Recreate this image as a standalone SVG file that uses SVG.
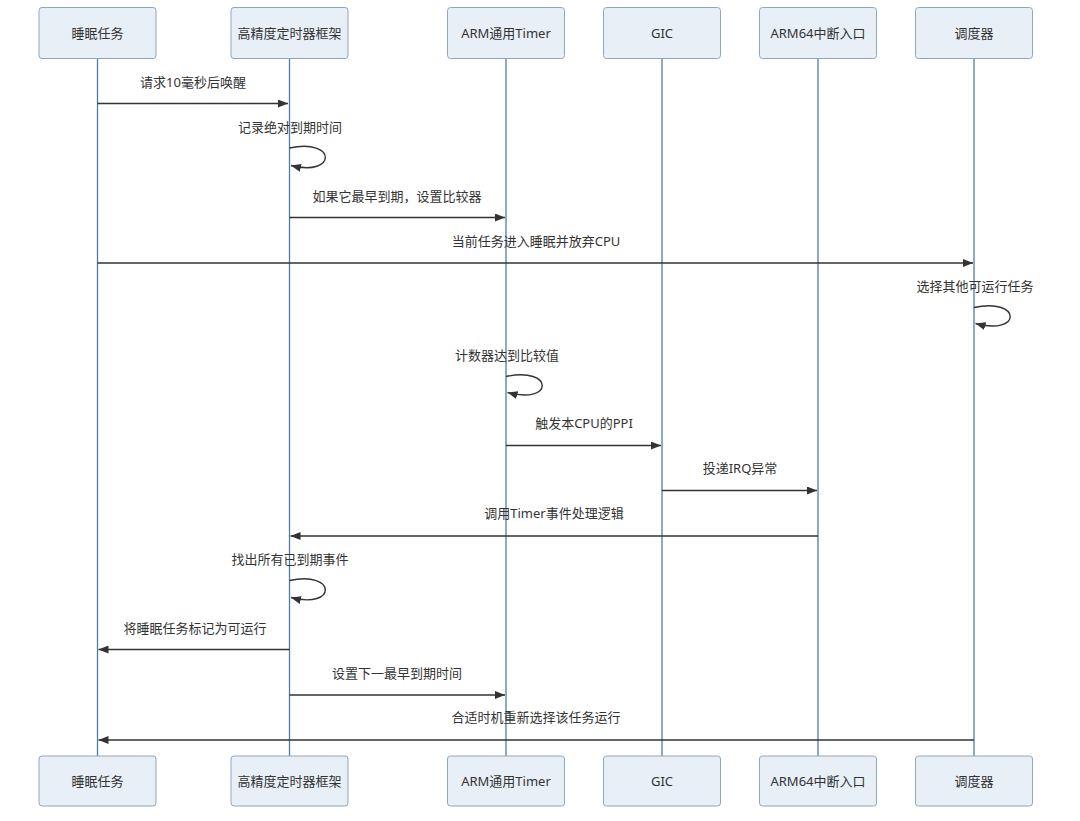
<svg xmlns="http://www.w3.org/2000/svg" width="1080" height="821" viewBox="0 0 1080 821">
<style>
.box{fill:#e8eff7;stroke:#8ea7c0;stroke-width:1}
.life{stroke:#4f7ca8;stroke-width:1.3;fill:none}
.msg{stroke:#333;stroke-width:1.4;fill:none}
.t{font-family:"Noto Sans","Noto Sans CJK SC",sans-serif;font-size:13px;fill:#333;text-anchor:middle;dominant-baseline:central}
</style>
<defs>
<marker id="ah" viewBox="0 0 10 8" refX="10" refY="4" markerWidth="10" markerHeight="8" markerUnits="userSpaceOnUse" orient="auto">
<path d="M0,0 L10,4 L0,8 Z" fill="#333"/>
</marker>
</defs>
<rect width="1080" height="821" fill="#fff"/>
<g id="lifelines">
<line class="life" x1="97.5" y1="58" x2="97.5" y2="756"/>
<line class="life" x1="289.5" y1="58" x2="289.5" y2="756"/>
<line class="life" x1="506" y1="58" x2="506" y2="756"/>
<line class="life" x1="662" y1="58" x2="662" y2="756"/>
<line class="life" x1="818" y1="58" x2="818" y2="756"/>
<line class="life" x1="974" y1="58" x2="974" y2="756"/>
</g>
<g id="n-sleep"><rect class="box" x="39" y="7.5" width="117" height="51" rx="3"/><text class="t" x="97.5" y="33">睡眠任务</text>
<rect class="box" x="39" y="756" width="117" height="50" rx="3"/><text class="t" x="97.5" y="781">睡眠任务</text></g>
<g id="n-hrtimer"><rect class="box" x="231" y="7.5" width="117" height="51" rx="3"/><text class="t" x="289.5" y="33">高精度定时器框架</text>
<rect class="box" x="231" y="756" width="117" height="50" rx="3"/><text class="t" x="289.5" y="781">高精度定时器框架</text></g>
<g id="n-timer"><rect class="box" x="447.5" y="7.5" width="117" height="51" rx="3"/><text class="t" x="506" y="33">ARM通用Timer</text>
<rect class="box" x="447.5" y="756" width="117" height="50" rx="3"/><text class="t" x="506" y="781">ARM通用Timer</text></g>
<g id="n-gic"><rect class="box" x="603.5" y="7.5" width="117" height="51" rx="3"/><text class="t" x="662" y="33">GIC</text>
<rect class="box" x="603.5" y="756" width="117" height="50" rx="3"/><text class="t" x="662" y="781">GIC</text></g>
<g id="n-entry"><rect class="box" x="759.5" y="7.5" width="117" height="51" rx="3"/><text class="t" x="818" y="33">ARM64中断入口</text>
<rect class="box" x="759.5" y="756" width="117" height="50" rx="3"/><text class="t" x="818" y="781">ARM64中断入口</text></g>
<g id="n-sched"><rect class="box" x="915.5" y="7.5" width="117" height="51" rx="3"/><text class="t" x="974" y="33">调度器</text>
<rect class="box" x="915.5" y="756" width="117" height="50" rx="3"/><text class="t" x="974" y="781">调度器</text></g>
<g id="connectors">
<line class="msg" x1="97.5" y1="103.5" x2="288" y2="103.5" marker-end="url(#ah)"/>
<text class="t" x="193" y="82">请求10毫秒后唤醒</text>
<path class="msg" d="M289.5,148 C337,138 337,177 291,165.5" marker-end="url(#ah)"/>
<text class="t" x="290" y="127">记录绝对到期时间</text>
<line class="msg" x1="289.5" y1="217.5" x2="505" y2="217.5" marker-end="url(#ah)"/>
<text class="t" x="397" y="196">如果它最早到期，设置比较器</text>
<line class="msg" x1="97.5" y1="263" x2="973" y2="263" marker-end="url(#ah)"/>
<text class="t" x="536" y="241">当前任务进入睡眠并放弃CPU</text>
<path class="msg" d="M974,307.5 C1022,297.5 1022,336 975.5,323.5" marker-end="url(#ah)"/>
<text class="t" x="975" y="286">选择其他可运行任务</text>
<path class="msg" d="M506,376.5 C554,366.5 554,405 507.5,392.5" marker-end="url(#ah)"/>
<text class="t" x="507" y="355">计数器达到比较值</text>
<line class="msg" x1="506" y1="445.5" x2="661" y2="445.5" marker-end="url(#ah)"/>
<text class="t" x="584" y="423">触发本CPU的PPI</text>
<line class="msg" x1="662" y1="490.5" x2="817" y2="490.5" marker-end="url(#ah)"/>
<text class="t" x="740" y="468">投递IRQ异常</text>
<line class="msg" x1="818" y1="536" x2="290.5" y2="536" marker-end="url(#ah)"/>
<text class="t" x="554" y="513">调用Timer事件处理逻辑</text>
<path class="msg" d="M289.5,580.5 C337,570.5 337,609.5 291,597.5" marker-end="url(#ah)"/>
<text class="t" x="290" y="559">找出所有已到期事件</text>
<line class="msg" x1="289.5" y1="649.5" x2="98.5" y2="649.5" marker-end="url(#ah)"/>
<text class="t" x="195" y="628">将睡眠任务标记为可运行</text>
<line class="msg" x1="289.5" y1="695" x2="505" y2="695" marker-end="url(#ah)"/>
<text class="t" x="397" y="673">设置下一最早到期时间</text>
<line class="msg" x1="974" y1="740" x2="98.5" y2="740" marker-end="url(#ah)"/>
<text class="t" x="536" y="717">合适时机重新选择该任务运行</text>
</g>
</svg>
